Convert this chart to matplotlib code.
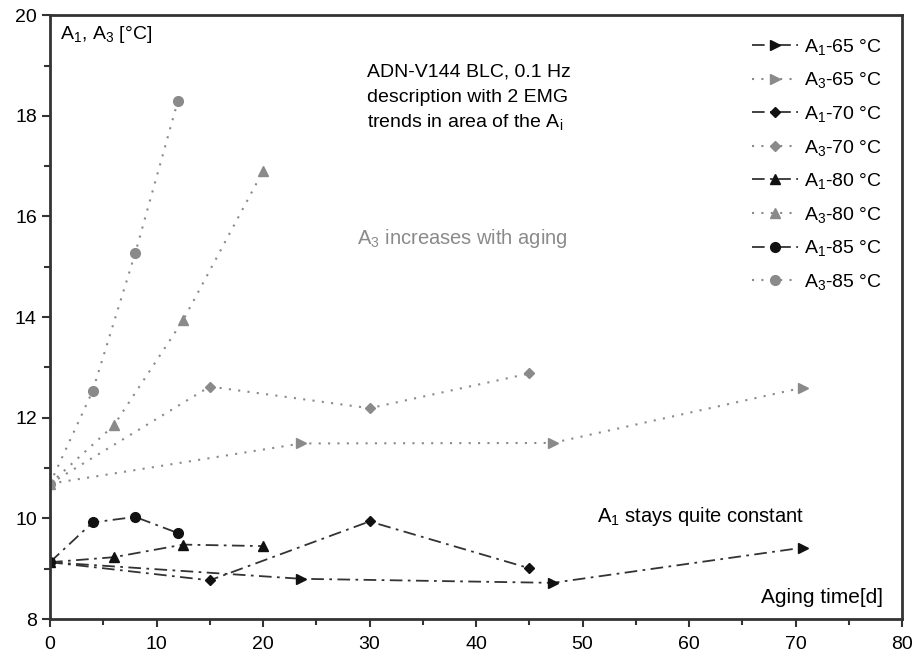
import numpy as np
import matplotlib.pyplot as plt

plt.rcParams['font.family'] = ['Liberation Sans', 'DejaVu Sans']
plt.rcParams['mathtext.fontset'] = 'custom'
plt.rcParams['mathtext.rm'] = 'Liberation Sans'
plt.rcParams['mathtext.it'] = 'Liberation Sans'

# aging time [d] and temperatures [°C]
t65 = [0, 23.6, 47.2, 70.7]
a1_65 = [9.13, 8.80, 8.72, 9.42]
a3_65 = [10.69, 11.49, 11.50, 12.60]

t70 = [0, 15, 30, 45]
a1_70 = [9.13, 8.77, 9.94, 9.01]
a3_70 = [10.69, 12.62, 12.19, 12.88]

t80 = [0, 6, 12.5, 20]
a1_80 = [9.13, 9.23, 9.48, 9.45]
a3_80 = [10.69, 11.85, 13.94, 16.90]

t85 = [0, 4, 8, 12]
a1_85 = [9.13, 9.92, 10.03, 9.71]
a3_85 = [10.69, 12.53, 15.27, 18.29]

c1 = '#111111'
c3 = '#8a8a8a'

fig = plt.figure(figsize=(9.14, 6.6), dpi=100)
ax = fig.add_axes([0.0547, 0.062, 0.9323, 0.915])

series = [
    (t65, a1_65, a3_65, '>', '65'),
    (t70, a1_70, a3_70, 'D', '70'),
    (t80, a1_80, a3_80, '^', '80'),
    (t85, a1_85, a3_85, 'o', '85'),
]
for t, a1, a3, m, lab in series:
    ms = 5.5 if m == 'D' else 7
    ax.plot(t, a1, color='#333333', ls=(0, (7, 3, 1.5, 3)), lw=1.3,
            marker=m, ms=ms, mfc=c1, mec=c1, label=r'A$_1$-' + lab + ' °C')
    ax.plot(t, a3, color=c3, ls=(0, (1, 3.5)), lw=1.5,
            marker=m, ms=ms, mfc=c3, mec=c3, label=r'A$_3$-' + lab + ' °C')

ax.set_xlim(0, 80)
ax.set_ylim(8, 20)
ax.set_xticks(np.arange(0, 81, 10))
ax.set_xticks(np.arange(0, 81, 5), minor=True)
ax.set_yticks(np.arange(8, 21, 2))
ax.set_yticks(np.arange(8, 21, 1), minor=True)
ax.tick_params(which='both', direction='out', labelsize=14, color='#333333', width=1.5)
ax.tick_params(which='major', length=6)
ax.tick_params(which='minor', length=4)
ax.tick_params(axis='x', pad=6)
for s in ax.spines.values():
    s.set_linewidth(2)
    s.set_color('#333333')

ax.text(0.012, 0.985, r'A$_1$, A$_3$ [°C]', transform=ax.transAxes,
        fontsize=14, va='top', ha='left')
note = ['ADN-V144 BLC, 0.1 Hz', 'description with 2 EMG', 'trends in area of the A$_i$']
for i, line in enumerate(note):
    ax.text(0.372, 0.898 - i * 0.0415, line, transform=ax.transAxes,
            fontsize=14, va='baseline', ha='left')
ax.text(0.36, 0.63, r'A$_3$ increases with aging', transform=ax.transAxes,
        fontsize=14.5, color=c3, va='center', ha='left')
ax.text(0.642, 0.17, r'A$_1$ stays quite constant', transform=ax.transAxes,
        fontsize=14.5, va='center', ha='left')
ax.text(0.978, 0.02, 'Aging time[d]', transform=ax.transAxes,
        fontsize=15, va='bottom', ha='right')

ax.legend(loc='upper right', frameon=False, fontsize=14, handlelength=2.4,
          labelspacing=0.7, handletextpad=0.3, borderaxespad=0.4,
          bbox_to_anchor=(0.995, 0.99))

fig.savefig('out.png', dpi=100)
